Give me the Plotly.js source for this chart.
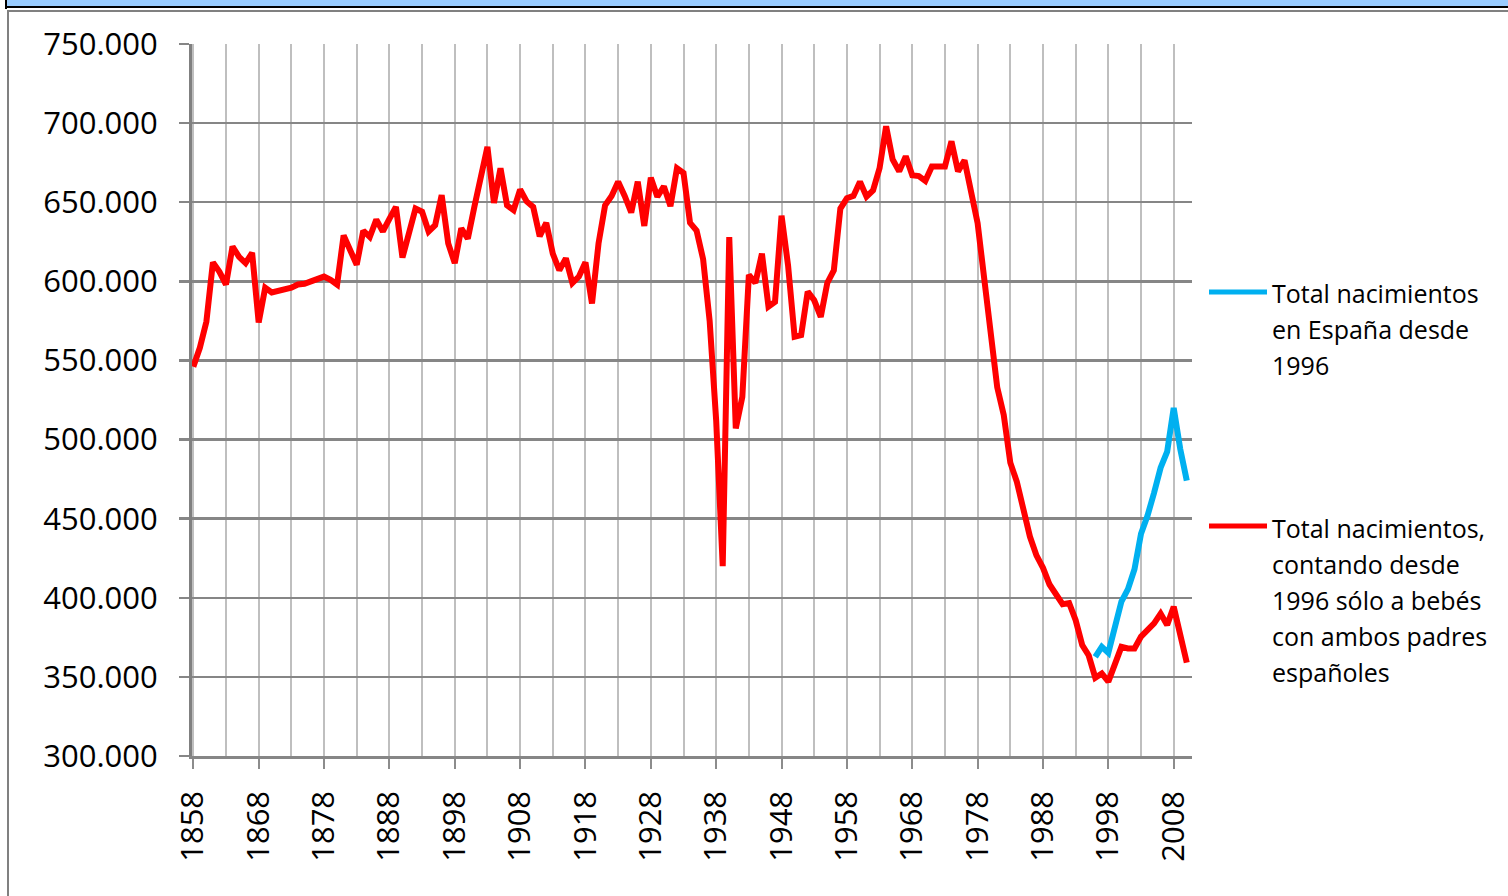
<!DOCTYPE html>
<html>
<head>
<meta charset="utf-8">
<script src="https://cdn.plot.ly/plotly-3.0.1.min.js"></script>
<style>
  html, body { margin: 0; padding: 0; background: #fff; overflow: hidden; }
  #chart { width: 1508px; height: 896px; position: absolute; left: 0; top: 0; }
  .frame { position: absolute; }
</style>
</head>
<body>
<div id="chart"></div>
<div class="frame" style="left:7px;top:0;width:1501px;height:7px;background:#99ccff"></div>
<div class="frame" style="left:5px;top:6px;width:1503px;height:2px;background:#000"></div>
<div class="frame" style="left:5px;top:0;width:2px;height:9px;background:#000"></div>
<div class="frame" style="left:8px;top:10px;width:1500px;height:2px;background:#808080"></div>
<div class="frame" style="left:7px;top:10px;width:2px;height:886px;background:#808080"></div>
<script>
// ---------- DATA (thousands of births) ----------
const firstYear = 1858;
const lastYear = 2010;

// Total births, counting from 1996 only babies with both parents Spanish (1858-2010)
const redValues = [
  546, 558, 574.5, 612, 606, 598, 622, 615.5, 611.5, 618,           // 1858-1867
  574, 596, 593, 594, 594.5, 596, 598, 598.5, 600, 601.5,           // 1868-1877
  603, 601, 598, 629, 620, 610.5, 632, 628, 639, 631.5,             // 1878-1887
  639.5, 647, 615, 630, 646, 644, 631.5, 635.5, 654.5, 624,         // 1888-1897
  611.5, 633.5, 627, 647, 666, 685, 649.5, 671.5, 648, 645,         // 1898-1907
  658, 650.5, 647, 628.5, 637, 617.5, 607, 614.5, 599, 603,         // 1908-1917
  612, 586, 624, 648, 654, 663, 654, 643.5, 663, 635,               // 1918-1927
  665.5, 653.5, 660, 647.5, 671.5, 668.5, 637, 632, 614, 575,       // 1928-1937
  512, 420, 628, 507, 527, 604, 599, 617.5, 584, 587,               // 1938-1947
  641.5, 610, 565, 566, 593.5, 588, 577.5, 599, 607, 646,           // 1948-1957
  652.5, 654, 663, 653.5, 657.5, 671.5, 698, 677, 669.5, 679,       // 1958-1967
  667, 666.5, 663.5, 672.5, 672.5, 672.5, 688.5, 669.5, 676.5, 655, // 1968-1977
  636.8, 602, 571, 533, 515.5, 485.4, 473.3, 456.3, 438.7, 426.8,   // 1978-1987
  418.9, 408.4, 401.4, 396, 396.7, 385.8, 370.1, 363.5, 349.5, 352.2, // 1988-1997
  347, 357.5, 369, 368, 368, 375.5, 379.6, 383.8, 390, 382.8,       // 1998-2007
  394.3, 375.4, 359                                                 // 2008-2010
];

// Total births in Spain from 1996
const blueYears = [1996, 1997, 1998, 1999, 2000, 2001, 2002, 2003, 2004, 2005, 2006, 2007, 2008, 2009, 2010];
const blueValues = [362.6, 369, 365.2, 380.1, 397.6, 405.5, 418, 440.5, 452, 466.4, 482.2, 492.4, 520, 494, 474];

const xTickYears = [1858, 1868, 1878, 1888, 1898, 1908, 1918, 1928, 1938, 1948, 1958, 1968, 1978, 1988, 1998, 2008];
const xGridYears = [1863, 1873, 1883, 1893, 1903, 1913, 1923, 1933, 1943, 1953, 1963, 1973, 1983, 1993, 2003];
const yTickVals = [300, 350, 400, 450, 500, 550, 600, 650, 700, 750];
const yTickText = ['300.000', '350.000', '400.000', '450.000', '500.000', '550.000', '600.000', '650.000', '700.000', '750.000'];

const blueName = 'Total nacimientos en España desde 1996';
const redName = 'Total nacimientos, contando desde 1996 sólo a bebés con ambos padres españoles';
const blueLegendLines = ['Total nacimientos', 'en España desde', '1996'];
const redLegendLines = ['Total nacimientos,', 'contando desde', '1996 sólo a bebés', 'con ambos padres', 'españoles'];

const blueColor = '#00b0f0';
const redColor = '#ff0000';

// ---------- BUILD ----------
const redYears = [];
for (let y = firstYear; y <= lastYear; y++) redYears.push(y);

const FONT = '"Open Sans", "Liberation Sans", sans-serif';

// plot area geometry (pixels)
const W = 1508, H = 896;
const M = { l: 192, r: 316, t: 44, b: 140 };
const PW = W - M.l - M.r, PH = H - M.t - M.b;
const px2x = (px) => (px - M.l) / PW;
const px2y = (py) => (H - M.b - py) / PH;

const traces = [
  {
    type: 'scatter', mode: 'lines', name: blueName,
    x: blueYears, y: blueValues,
    line: { color: blueColor, width: 6 }, hoverinfo: 'skip'
  },
  {
    type: 'scatter', mode: 'lines', name: redName,
    x: redYears, y: redValues,
    line: { color: redColor, width: 6 }, hoverinfo: 'skip'
  }
];

const shapes = [
  { type: 'line', xref: 'paper', yref: 'paper', x0: px2x(1209), x1: px2x(1267), y0: px2y(292), y1: px2y(292),
    line: { color: blueColor, width: 5 } },
  { type: 'line', xref: 'paper', yref: 'paper', x0: px2x(1209), x1: px2x(1267), y0: px2y(526), y1: px2y(526),
    line: { color: redColor, width: 5 } }
];

const annotations = [];
const lineGap = 36;
blueLegendLines.forEach((t, i) => annotations.push({
  xref: 'paper', yref: 'paper', x: px2x(1270), y: px2y(293 + i * lineGap),
  xanchor: 'left', yanchor: 'middle', showarrow: false, text: t,
  font: { family: FONT, size: 25, color: '#000' }
}));
redLegendLines.forEach((t, i) => annotations.push({
  xref: 'paper', yref: 'paper', x: px2x(1270), y: px2y(528 + i * lineGap),
  xanchor: 'left', yanchor: 'middle', showarrow: false, text: t,
  font: { family: FONT, size: 25, color: '#000' }
}));

const layout = {
  width: W, height: H,
  margin: { l: M.l, r: M.r, t: M.t, b: M.b, pad: 0 },
  paper_bgcolor: '#ffffff', plot_bgcolor: '#ffffff',
  showlegend: false,
  font: { family: FONT, color: '#000' },
  xaxis: {
    range: [1857.8, 2010.8],
    tickmode: 'array', tickvals: xTickYears, ticktext: xTickYears.map(String),
    tickangle: -90,
    ticks: 'outside', ticklen: 10, tickwidth: 2, tickcolor: '#8c8c8c',
    showgrid: true, gridcolor: '#bfbfbf', gridwidth: 2,
    minor: { tickmode: 'array', tickvals: xGridYears, showgrid: true, gridcolor: '#bfbfbf', gridwidth: 2, ticks: '' },
    showline: true, linecolor: '#868686', linewidth: 2.5,
    zeroline: false,
    ticklabelstandoff: 10,
    tickfont: { family: FONT, size: 31, color: '#000' }
  },
  yaxis: {
    range: [300, 750],
    tickmode: 'array', tickvals: yTickVals, ticktext: yTickText,
    ticks: 'outside', ticklen: 10, tickwidth: 2.5, tickcolor: '#868686',
    showgrid: true, gridcolor: '#868686', gridwidth: 2.5,
    showline: true, linecolor: '#808080', linewidth: 3,
    zeroline: false,
    ticklabelstandoff: 15,
    tickfont: { family: FONT, size: 31, color: '#000' }
  },
  shapes: shapes,
  annotations: annotations
};

Plotly.newPlot('chart', traces, layout, { staticPlot: true, displayModeBar: false });
</script>
</body>
</html>
